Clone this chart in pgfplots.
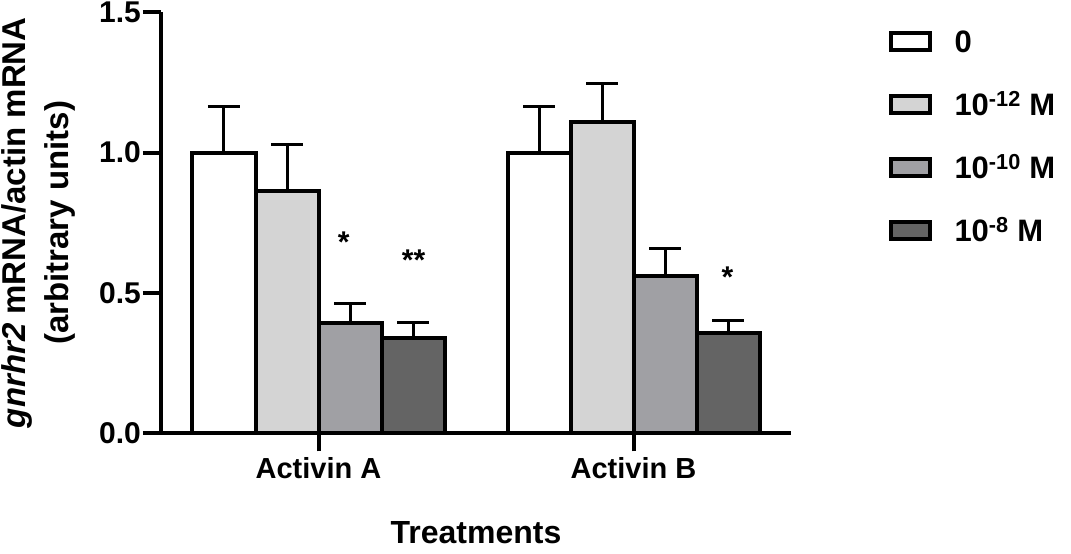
\documentclass[border=0pt]{standalone}
\usepackage{pgfplots}
\pgfplotsset{compat=1.18}
\usepackage{fontspec}
\setmainfont{Liberation Sans}

\definecolor{cLight}{RGB}{212,212,212}
\definecolor{cMid}{RGB}{160,160,164}
\definecolor{cDark}{RGB}{100,100,100}

\pgfplotsset{
  boxlegend/.style={legend image code/.code={
      \draw[##1,line width=4pt] (2pt,-8.5pt) rectangle (41pt,8.5pt);
      \path (0pt,0pt) (64pt,0pt);}},
}

\begin{document}
\begin{tikzpicture}
\useasboundingbox (0pt,0pt) rectangle (1071pt,554pt);
\begin{axis}[
  at={(161pt,120.7pt)}, anchor=south west,
  scale only axis, width=630pt, height=421pt,
  xmin=-0.5, xmax=1.5, ymin=0, ymax=1.5,
  axis x line*=bottom, axis y line*=left,
  axis line style={line width=4pt, black},
  tick align=outside, major tick length=18pt,
  tick style={line width=4pt, black},
  xtick={0,1}, xticklabels={Activin A, Activin B},
  ytick={0,0.5,1,1.5},
  /pgf/number format/fixed, /pgf/number format/fixed zerofill,
  /pgf/number format/precision=1,
  /pgf/number format/assume math mode=true,
  yticklabel style={font=\bfseries\fontsize{30}{30}\selectfont, inner xsep=2pt},
  xticklabel style={font=\bfseries\fontsize{29}{29}\selectfont, yshift=-3pt},
  xlabel={Treatments},
  xlabel style={font=\bfseries\fontsize{32}{32}\selectfont,
    at={(axis description cs:0.5,-0.261)}, anchor=base},
  ylabel={\textit{gnrhr2} mRNA/actin mRNA\\(arbitrary units)},
  ylabel style={font=\bfseries\fontsize{33}{43}\selectfont, align=center,
    at={(axis description cs:-0.195,0.5)}, anchor=center},
  ybar=0pt, bar width=63pt,
  every axis plot/.append style={draw=black, line width=4pt},
  error bars/y dir=plus, error bars/y explicit,
  error bars/error bar style={line width=3pt, black},
  error bars/error mark options={line width=3pt, black, mark size=16pt, rotate=90},
  legend style={at={(axis description cs:1.1516,0.9556)}, anchor=north west,
    draw=none, fill=none, inner sep=0pt, outer sep=0pt, row sep=41pt,
    font=\bfseries\fontsize{31}{31}\selectfont,
    nodes={inner sep=0pt, text height=22pt, text depth=0pt}},
  legend cell align=left,
]
\addplot[fill=white, boxlegend] coordinates {(0,1.000) +- (0,0.165) (1,1.000) +- (0,0.165)};
\addplot[fill=cLight, boxlegend] coordinates {(0,0.862) +- (0,0.168) (1,1.108) +- (0,0.139)};
\addplot[fill=cMid, boxlegend] coordinates {(0,0.392) +- (0,0.071) (1,0.559) +- (0,0.100)};
\addplot[fill=cDark, boxlegend] coordinates {(0,0.338) +- (0,0.057) (1,0.356) +- (0,0.047)};
\legend{0, 10\textsuperscript{-12} M, 10\textsuperscript{-10} M, 10\textsuperscript{-8} M}
\node[anchor=base, font=\bfseries\fontsize{30}{30}\selectfont] at (axis cs:0.08,0.645) {*};
\node[anchor=base, font=\bfseries\fontsize{30}{30}\selectfont] at (axis cs:0.302,0.58) {**};
\node[anchor=base, font=\bfseries\fontsize{30}{30}\selectfont] at (axis cs:1.298,0.52) {*};
\end{axis}
\end{tikzpicture}
\end{document}
